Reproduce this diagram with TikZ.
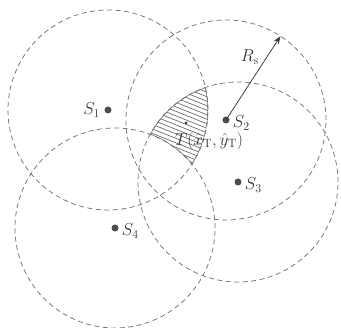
\documentclass[tikz,border=0pt]{standalone}
\usetikzlibrary{calc,arrows.meta}
\begin{document}
\begin{tikzpicture}[x=1pt,y=-1pt,
  sensor/.style={circle,fill=black!70,inner sep=0pt,minimum size=7pt},
  target/.style={circle,fill=black!80,inner sep=0pt,minimum size=3pt},
  rangecirc/.style={draw=black!55,dash pattern=on 5pt off 3.5pt,line width=0.75pt},
  lbl/.style={font=\fontsize{17}{19}\selectfont,inner sep=1pt,text=black!80},
  hatch/.style={draw=black!65,line width=0.6pt}]
\useasboundingbox (0,0) rectangle (341,328);
\coordinate (c1) at (108,110);
\coordinate (c2) at (226,120);
\coordinate (c3) at (238,182);
\coordinate (c4) at (115,228);
% hatched region
\begin{scope}[even odd rule]
  \clip (c1) circle[radius=100pt];
  \clip (c3) circle[radius=100pt];
  \clip (0,0) rectangle (341,328) (c4) circle[radius=100pt];
  \foreach \k in {30,34.5,...,180} \draw[hatch] (130,\k) -- (230,\k+40);
  \draw[hatch,line width=0.9pt] (c1) circle[radius=100pt];
  \draw[hatch,line width=0.9pt] (c3) circle[radius=100pt];
  \draw[hatch,line width=0.9pt] (c4) circle[radius=100pt];
\end{scope}
% range circles
\foreach \c in {c1,c2,c3,c4} \draw[rangecirc] (\c) circle[radius=100pt];
% sensors
\node[sensor] (s1) at (c1) {};
\node[sensor] (s2) at (c2) {};
\node[sensor] (s3) at (c3) {};
\node[sensor] (s4) at (c4) {};
\node[target] (t) at (186,123) {};
\coordinate (rend) at ($(c2)+(57:100pt)$);
\draw[black!75,line width=0.8pt,-{Stealth[length=8pt,width=6pt]}] (s2.center) -- (rend);
% labels
\node[lbl,anchor=east] (l1) at ([xshift=-3pt]s1.west) {$S_1$};
\node[lbl,anchor=west] (l2) at ([xshift=2pt,yshift=-3pt]s2.east) {$S_2$};
\node[lbl,anchor=west] (l3) at ([xshift=2pt,yshift=-3pt]s3.east) {$S_3$};
\node[lbl,anchor=west] (l4) at ([xshift=2pt,yshift=-3pt]s4.east) {$S_4$};
\node[lbl] (lt) at (209,141) {$T(\hat{x}_{\mathrm{T}},\hat{y}_{\mathrm{T}})$};
\node[lbl] (lr) at (250,57) {$R_{\mathrm{s}}$};
\end{tikzpicture}
\end{document}
